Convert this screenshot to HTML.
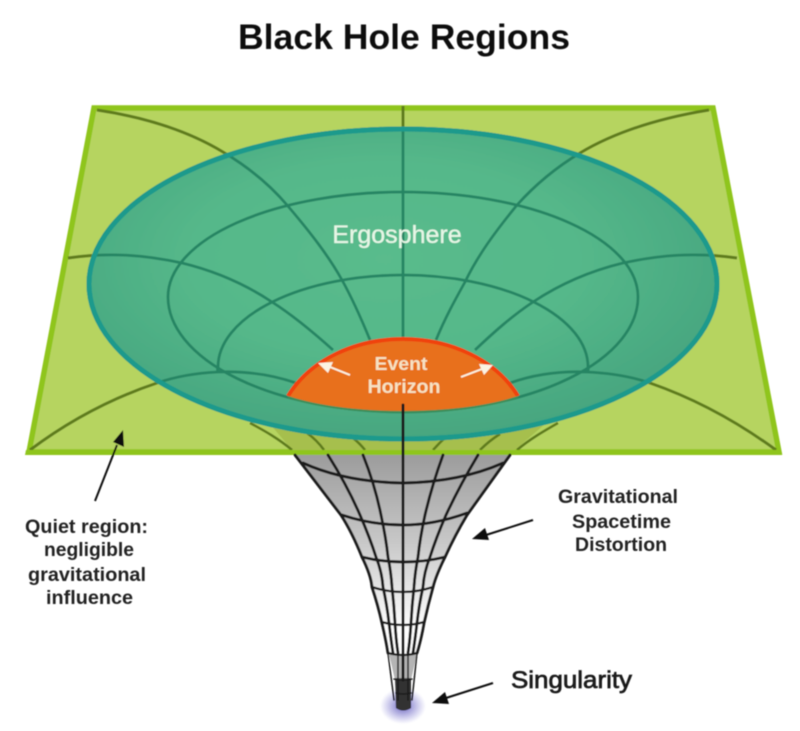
<!DOCTYPE html>
<html><head><meta charset="utf-8"><style>
html,body{margin:0;padding:0;background:#fff;width:800px;height:731px;overflow:hidden}
svg{display:block}
text{font-family:"Liberation Sans",sans-serif;text-anchor:middle}
</style></head><body>
<svg width="800" height="731" viewBox="0 0 800 731" xmlns="http://www.w3.org/2000/svg">
<defs>
<radialGradient id="eg" cx="0.47" cy="0.42" r="0.62">
<stop offset="0" stop-color="#5abb8c"/><stop offset="0.5" stop-color="#55b88a"/><stop offset="1" stop-color="#45a37e"/>
</radialGradient>
<linearGradient id="fg" x1="0" y1="455" x2="0" y2="630" gradientUnits="userSpaceOnUse">
<stop offset="0" stop-color="#9c9c9c"/><stop offset="0.5" stop-color="#c8c8c8"/><stop offset="1" stop-color="#ffffff"/>
</linearGradient>
<radialGradient id="glow"><stop offset="0.3" stop-color="#7a74c8" stop-opacity=".75"/><stop offset="1" stop-color="#8a86d8" stop-opacity="0"/></radialGradient>
<clipPath id="ec"><ellipse cx="403" cy="284" rx="316" ry="157"/></clipPath>
<filter id="soft" x="-5%" y="-5%" width="110%" height="110%"><feGaussianBlur stdDeviation="0.6"/></filter>
<g id="grid" fill="none">
<path d="M97 110C150 118 190 132 223 152C250 168 270 185 287 205C310 232 328 255 342 280C352 298 361 318 370 340"/>
<path d="M709 110C660 118 615 132 580 153C555 168 535 185 517 205C495 232 478 255 465 282C455 300 445 318 436 340"/>
<path d="M68 258C110 252 145 255 182 263C215 271 245 284 272 302C294 316 313 332 333 350"/>
<path d="M737 258C695 252 660 255 623 263C590 271 560 284 533 302C512 316 494 332 475 350"/>
<path d="M30 450C70 420 112 398 157 383C177 376 197 373 218 372C243 371 270 374 296 383"/>
<path d="M776 450C735 420 693 398 650 383C630 376 608 373 587 372C562 371 535 374 510 383"/>
<path d="M168 297A235 105 0 0 1 638 297A235 115 0 0 1 168 297"/>
<path d="M218 372Q217 369 218 367A185 92 0 0 1 588 367Q589 369 587 372"/>
<path d="M403 106V340"/>
</g>
</defs>
<g filter="url(#soft)">
<polygon points="94,108 713,108 779,452 29,452" fill="#b6d461" stroke="#8fc51a" stroke-width="5.5"/>
<path d="M270 424L292 450H515L545 424Z" fill="#a6bf4e"/>
<use href="#grid" stroke="#5f7c1e" stroke-width="3"/>
<path d="M250 423C265 431 279 439 292 450M307 433C314 438 319 443 324 450M353 438C358 442 361 445 365 450M445 438C440 442 437 446 433 450M500 434C492 439 486 444 480 450M558 423C544 431 530 439 517 450" fill="none" stroke="#5f7c1e" stroke-width="2.6"/>
<polygon points="26,450 781,450 782,455 25,455" fill="#8fc51a"/>
<ellipse cx="403" cy="284" rx="314" ry="155" fill="url(#eg)" stroke="#1f9a8c" stroke-width="5"/>
<g clip-path="url(#ec)"><use href="#grid" stroke="#268563" stroke-width="2.8"/></g>
<ellipse cx="403" cy="284" rx="314" ry="155" fill="none" stroke="#1f9a8c" stroke-width="5"/>
<path d="M288 396C310 360 355 339 403 339C451 339 496 360 518 396C485 408 440 412 403 412C366 412 321 408 288 396Z" fill="#e8701c"/>
<path d="M288 396C310 360 355 339 403 339C451 339 496 360 518 396" fill="none" stroke="#f0430f" stroke-width="4"/>
<path d="M288 397C321 408 366 412 403 412C440 412 485 408 518 397" fill="none" stroke="#3f8e58" stroke-width="2"/>
<path d="M295 455Q322 490 341 515Q352 532 362 557Q371 575 372 587Q378 605 382 623Q386 640 388 653L395 680L396 708H410L411 680L417 653Q421 640 424 623Q428 605 433 587Q436 575 445 557Q455 535 467 515Q485 490 510 455Z" fill="url(#fg)"/>
<ellipse cx="403" cy="706" rx="23" ry="18" fill="url(#glow)"/>
<path d="M395 678H411L411 708Q403 713 396 708Z" fill="#333"/>
<path d="M389 654H417L411 680H395Z" fill="#777" fill-opacity=".55"/>
<g fill="none" stroke="#1a1a1a" stroke-linejoin="round" stroke-linecap="round">
<g stroke-width="2.9">
<path d="M295 455Q322 490 341 515Q352 532 362 557Q371 575 372 587Q378 605 382 623Q386 640 388 653"/>
<path d="M510 455Q485 490 467 515Q455 535 445 557Q436 575 433 587Q428 605 424 623Q421 640 417 653"/>
<path d="M403 405V680"/>
<path d="M328 455Q347 485 360 515Q370 538 376 557Q382 572 383 587Q387 605 389 623Q391 640 393 653"/>
<path d="M478 455Q460 485 446 515Q436 538 430 557Q424 572 423 587Q419 605 417 623Q415 640 413 653"/>
<path d="M363 455Q375 485 381 515Q386 538 388 557Q391 572 392 587Q394 605 395 623Q396 640 398 653"/>
<path d="M443 455Q432 485 425 515Q420 538 418 557Q415 572 414 587Q412 605 411 623Q410 640 408 653"/>
<path d="M303 463Q345 482 403 483Q460 482 503 463"/>
<path d="M342 515Q372 525 403 525Q434 525 467 513"/>
<path d="M362 557Q382 562 403 562Q425 562 445 557"/>
</g>
<g stroke-width="2.3">
<path d="M372 587Q387 592 403 592Q418 592 433 587"/>
<path d="M382 622Q392 625 403 625Q414 625 424 622"/>
<path d="M388 653Q396 655 403 655Q410 655 417 653"/>
</g>
<g stroke-width="1.5">
<path d="M388 653L394 700M417 653L412 700M398 653V700M408 653V700"/>
<path d="M394 679Q403 681 412 679M396 693Q403 695 411 693"/>
</g>
</g>
<g stroke="#111" stroke-width="2" fill="none">
<path d="M95 501L117 445"/><path d="M533 520L486 535"/><path d="M493 683L446 698"/>
</g>
<polygon points="123,430 124,447 113,442" fill="#111"/>
<polygon points="472,539 485,528 489,540" fill="#111"/>
<polygon points="432,703 445,692 449,704" fill="#111"/>
<g stroke="#fbf3e2" stroke-width="2" fill="none"><path d="M350 375L330 367"/><path d="M461 377L482 369"/></g>
<polygon points="318,363 333,362 328,373" fill="#fbf3e2"/>
<polygon points="493,365 484,375 479,364" fill="#fbf3e2"/>
<text x="404" y="49" font-size="35" font-weight="bold" fill="#111" textLength="332" lengthAdjust="spacingAndGlyphs">Black Hole Regions</text>
<text x="397" y="243" font-size="25" fill="#e6f6e6" stroke="#e6f6e6" stroke-width=".3">Ergosphere</text>
<text x="401" y="370" font-size="18" font-weight="bold" fill="#f6e2c2" textLength="53" lengthAdjust="spacingAndGlyphs">Event</text>
<text x="404" y="393" font-size="19" font-weight="bold" fill="#f6e2c2" textLength="73" lengthAdjust="spacingAndGlyphs">Horizon</text>
<g font-size="19" fill="#222" font-weight="bold">
<text x="86.5" y="533" textLength="123" lengthAdjust="spacingAndGlyphs">Quiet region:</text>
<text x="89" y="556" textLength="90" lengthAdjust="spacingAndGlyphs">negligible</text>
<text x="87" y="581" textLength="118" lengthAdjust="spacingAndGlyphs">gravitational</text>
<text x="89.5" y="604" textLength="87" lengthAdjust="spacingAndGlyphs">influence</text>
<text x="618" y="503" textLength="120" lengthAdjust="spacingAndGlyphs">Gravitational</text>
<text x="621.5" y="528" textLength="99" lengthAdjust="spacingAndGlyphs">Spacetime</text>
<text x="621" y="551" textLength="92" lengthAdjust="spacingAndGlyphs">Distortion</text>
</g>
<text x="571.5" y="688" font-size="24" fill="#1a1a1a" stroke="#1a1a1a" stroke-width=".7" textLength="121" lengthAdjust="spacingAndGlyphs">Singularity</text>
</g>
</svg>
</body></html>
